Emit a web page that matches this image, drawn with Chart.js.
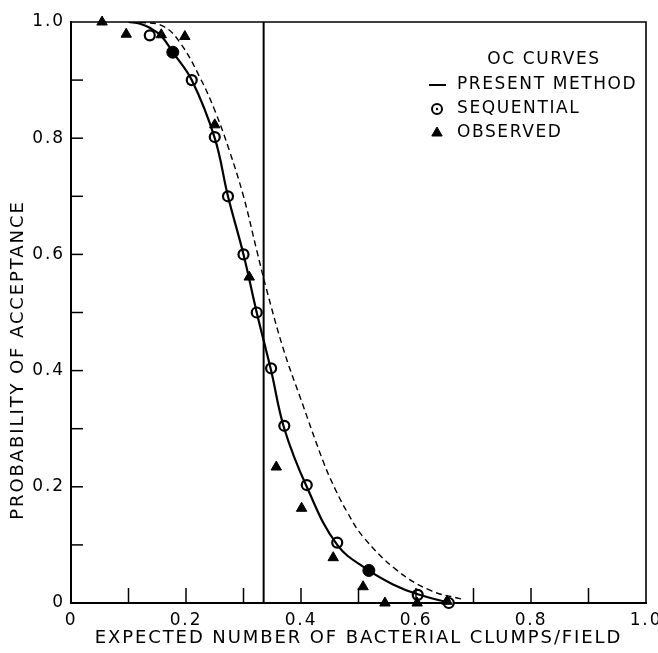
<!DOCTYPE html>
<html lang="en">
<head>
<meta charset="utf-8">
<title>OC curves</title>
<style>
  html, body { margin: 0; padding: 0; background: #fff; }
  canvas { display: block; }
</style>
</head>
<body>
<canvas id="myChart" width="658" height="653"></canvas>
<script src="https://cdn.jsdelivr.net/npm/chart.js@4.4.0/dist/chart.umd.min.js"></script>
<script>
// present method (solid curve)
var presX = [0.10, 0.12, 0.137, 0.157, 0.177, 0.21, 0.25, 0.273, 0.30, 0.323, 0.348, 0.371, 0.41, 0.463, 0.518, 0.56, 0.603, 0.66];
var presY = [1.0, 0.997, 0.99, 0.976, 0.948, 0.90, 0.80, 0.70, 0.60, 0.50, 0.40, 0.30, 0.20, 0.10, 0.056, 0.032, 0.015, 0.0];

// dashed curve
var dashX = [0.12, 0.16, 0.19, 0.224, 0.25, 0.275, 0.30, 0.323, 0.34, 0.37, 0.40, 0.44, 0.46, 0.48, 0.508, 0.566, 0.624, 0.682];
var dashY = [1.0, 0.993, 0.964, 0.905, 0.848, 0.78, 0.70, 0.607, 0.54, 0.435, 0.35, 0.24, 0.195, 0.157, 0.114, 0.057, 0.022, 0.006];

// sequential (open circles)
var seqX = [0.137, 0.21, 0.25, 0.273, 0.30, 0.323, 0.348, 0.371, 0.41, 0.463, 0.603, 0.657];
var seqY = [0.977, 0.90, 0.802, 0.70, 0.60, 0.50, 0.404, 0.305, 0.203, 0.104, 0.014, 0.0];

// filled circles on the curve
var fillX = [0.177, 0.518];
var fillY = [0.948, 0.056];

// observed (triangles)
var obsX = [0.054, 0.096, 0.157, 0.198, 0.25, 0.31, 0.357, 0.401, 0.456, 0.508, 0.546, 0.602, 0.654];
var obsY = [1.0, 0.979, 0.978, 0.975, 0.823, 0.561, 0.234, 0.163, 0.078, 0.028, 0.0, 0.0, 0.003];

// vertical line
var limitX = 0.335;

var xTickLabels = ['0', '0.2', '0.4', '0.6', '0.8', '1.0'];
var yTickLabels = ['0', '0.2', '0.4', '0.6', '0.8', '1.0'];
var minorTicks = [0.1, 0.2, 0.3, 0.4, 0.5, 0.6, 0.7, 0.8, 0.9];

var legendTitle = 'OC CURVES';
var legendItems = ['PRESENT METHOD', 'SEQUENTIAL', 'OBSERVED'];
var xTitle = 'EXPECTED NUMBER OF BACTERIAL CLUMPS/FIELD';
var yTitle = 'PROBABILITY OF ACCEPTANCE';

function pts(xs, ys) {
  return xs.map(function (x, i) { return { x: x, y: ys[i] }; });
}

var FONT = '"DejaVu Sans", sans-serif';

// frame, inward ticks, y title, legend
var extras = {
  id: 'extras',
  beforeDraw: function (chart) {
    chart.ctx.letterSpacing = '1.9px';
  },
  afterDraw: function (chart) {
    var ctx = chart.ctx;
    var a = chart.chartArea;
    var xs = chart.scales.x, ys = chart.scales.y;
    ctx.save();
    ctx.strokeStyle = '#000';
    ctx.lineWidth = 1.6;
    ctx.beginPath();
    ctx.moveTo(a.left, a.top);
    ctx.lineTo(a.right, a.top);
    ctx.lineTo(a.right, a.bottom);
    ctx.stroke();

    ctx.lineWidth = 1.5;
    minorTicks.forEach(function (v) {
      var px = xs.getPixelForValue(v);
      ctx.beginPath();
      ctx.moveTo(px, a.bottom);
      ctx.lineTo(px, a.bottom - 15);
      ctx.stroke();
      var py = ys.getPixelForValue(v);
      ctx.beginPath();
      ctx.moveTo(a.left, py);
      ctx.lineTo(a.left + 12, py);
      ctx.stroke();
    });

    ctx.fillStyle = '#000';
    ctx.letterSpacing = '1.9px';
    ctx.font = '18px ' + FONT;
    ctx.textAlign = 'center';
    ctx.textBaseline = 'middle';
    ctx.save();
    ctx.translate(18, a.bottom - 243);
    ctx.rotate(-Math.PI / 2);
    ctx.fillText(yTitle, 0, 0);
    ctx.restore();

    // legend
    ctx.font = '17px ' + FONT;
    ctx.letterSpacing = '1.6px';
    ctx.textAlign = 'center';
    ctx.fillText(legendTitle, a.right - 102, a.top + 38);
    ctx.textAlign = 'left';
    var tx = a.right - 189, sx = a.right - 209;
    legendItems.forEach(function (t, i) {
      var y = a.top + 63 + i * 24;
      ctx.fillText(t, tx, y);
    });
    var y0 = a.top + 63;
    ctx.lineWidth = 2;
    ctx.beginPath();
    ctx.moveTo(sx - 8, y0);
    ctx.lineTo(sx + 9, y0);
    ctx.stroke();
    var h = Chart.helpers;
    ctx.fillStyle = '#fff';
    h.drawPoint(ctx, { pointStyle: 'circle', radius: 5, borderWidth: 2 }, sx, y0 + 24);
    ctx.fillStyle = '#000';
    ctx.beginPath();
    ctx.arc(sx, y0 + 24, 1.2, 0, Math.PI * 2);
    ctx.fill();
    ctx.lineWidth = 1;
    h.drawPoint(ctx, { pointStyle: 'triangle', radius: 6, borderWidth: 1 }, sx, y0 + 48);
    ctx.restore();
  }
};

var ctx = document.getElementById('myChart').getContext('2d');
var chart = new Chart(ctx, {
  type: 'scatter',
  data: {
    datasets: [
      {
        label: 'limit',
        data: [{ x: limitX, y: 0 }, { x: limitX, y: 1 }],
        showLine: true, borderColor: '#000', borderWidth: 2, pointRadius: 0
      },
      {
        label: 'dashed',
        data: pts(dashX, dashY),
        showLine: true, borderColor: '#000', borderWidth: 1.4, borderDash: [6, 4],
        tension: 0.4, pointRadius: 0
      },
      {
        label: 'PRESENT METHOD',
        data: pts(presX, presY),
        showLine: true, borderColor: '#000', borderWidth: 2.2,
        tension: 0.4, pointRadius: 0
      },
      {
        label: 'OBSERVED',
        data: pts(obsX, obsY),
        pointStyle: 'triangle', pointRadius: 6,
        backgroundColor: '#000', borderColor: '#000', borderWidth: 1, clip: false
      },
      {
        label: 'SEQUENTIAL',
        data: pts(seqX, seqY),
        pointStyle: 'circle', pointRadius: 5,
        backgroundColor: '#fff', borderColor: '#000', borderWidth: 2.2, clip: false
      },
      {
        label: 'seq centre',
        data: pts(seqX, seqY),
        pointStyle: 'circle', pointRadius: 1.2,
        backgroundColor: '#000', borderColor: '#000', borderWidth: 0, clip: false
      },
      {
        label: 'filled',
        data: pts(fillX, fillY),
        pointStyle: 'circle', pointRadius: 6,
        backgroundColor: '#000', borderColor: '#000', borderWidth: 1
      }
    ]
  },
  options: {
    responsive: false,
    animation: false,
    events: [],
    layout: { padding: { top: 22, right: 12, left: 0, bottom: 0 } },
    plugins: {
      legend: { display: false },
      tooltip: { enabled: false }
    },
    scales: {
      x: {
        type: 'linear', min: 0, max: 1,
        afterFit: function (s) { s.height = 50; s.paddingLeft = 0; s.paddingRight = 0; },
        grid: { display: false, drawTicks: false },
        border: { display: true, color: '#000', width: 2 },
        ticks: {
          stepSize: 0.2, padding: 7, color: '#000', maxRotation: 0,
          font: { family: FONT, size: 17 },
          callback: function (v, i) { return xTickLabels[i]; }
        },
        title: {
          display: true, text: xTitle, color: '#000',
          font: { family: FONT, size: 18 }, padding: { top: 2, bottom: 4 }
        }
      },
      y: {
        type: 'linear', min: 0, max: 1,
        afterFit: function (s) { s.width = 71; s.paddingTop = 0; s.paddingBottom = 0; },
        grid: { display: false, drawTicks: false },
        border: { display: true, color: '#000', width: 2 },
        ticks: {
          stepSize: 0.2, padding: 6, color: '#000',
          font: { family: FONT, size: 17 },
          callback: function (v, i) { return yTickLabels[i]; }
        }
      }
    }
  },
  plugins: [extras]
});
</script>
</body>
</html>
